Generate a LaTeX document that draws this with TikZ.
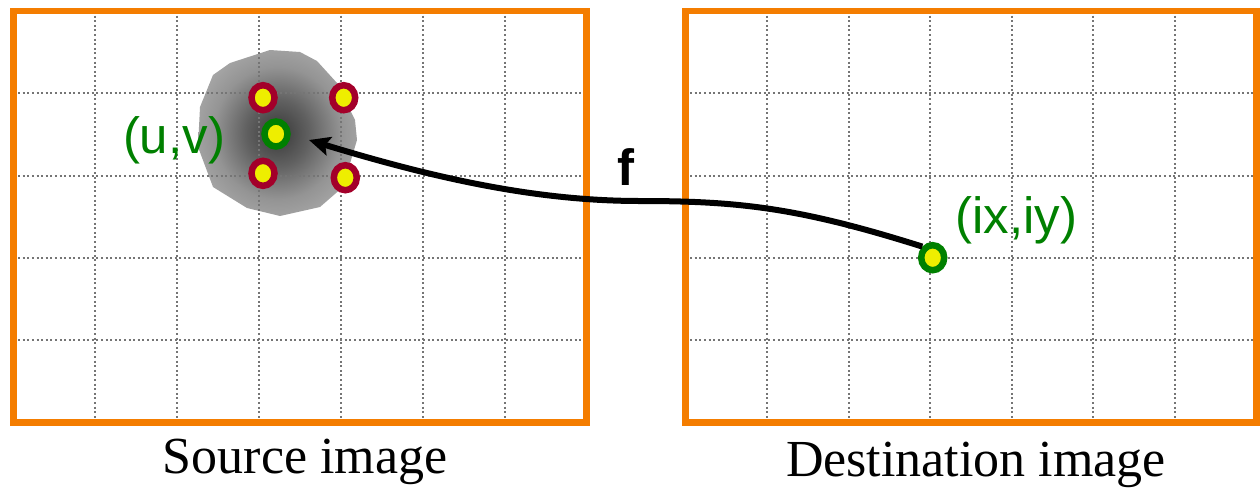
\documentclass[tikz,border=0pt]{standalone}
\usepackage{fontspec}
\setmainfont{Liberation Serif}
\newfontfamily\arialfont{Liberation Sans}
\usetikzlibrary{shapes.geometric,arrows.meta}
\definecolor{boxorange}{HTML}{F47D00}
\definecolor{ringred}{HTML}{A3002A}
\definecolor{dotyellow}{HTML}{EEEE00}
\definecolor{ptgreen}{HTML}{008000}
\definecolor{gridgray}{HTML}{757575}
\pgfdeclareradialshading{blobshade}{\pgfpoint{0bp}{0bp}}{color(0bp)=(black!78); color(10bp)=(black!62); color(20bp)=(black!42); color(32bp)=(black!30); color(50bp)=(black!25); color(70bp)=(black!25)}
\begin{document}
\begin{tikzpicture}[x=1pt,y=-1pt,
 frame/.style={draw=boxorange, line width=6.5pt},
 gridline/.style={draw=gridgray, line width=2pt, dash pattern=on 2pt off 2.6pt},
 sample/.style={ellipse, draw=ringred, fill=dotyellow, line width=6.5pt, minimum width=23pt, minimum height=25pt, inner sep=0pt},
 target/.style={sample, draw=ptgreen},
 flow/.style={line width=6pt, -{Stealth[length=21pt,width=19pt,inset=4pt]}},
 coordlabel/.style={text=ptgreen, font=\arialfont\fontsize{51}{61}\selectfont, anchor=base, inner sep=0pt},
 caption/.style={font=\fontsize{52}{62}\selectfont, anchor=base, inner sep=0pt}]
\useasboundingbox (0,0) rectangle (1260,488);
% gray blob
\shade[shading=blobshade] (230,63) -- (270,50) -- (300,52) -- (317,61) -- (337,83) -- (355,120) -- (357,140) -- (343,187) -- (320,207) -- (280,216) -- (247,208) -- (213,187) -- (198,147) -- (200,107) -- (213,75) -- cycle;
% grids
\foreach \i in {1,...,6} {
  \draw[gridline] ({13.5+\i*81.86},11) -- ({13.5+\i*81.86},422.5);
  \draw[gridline] ({685.5+\i*81.57},11) -- ({685.5+\i*81.57},422.5);
}
\foreach \j in {1,...,4} {
  \draw[gridline] (13.5,{11+\j*82.3}) -- (586.5,{11+\j*82.3});
  \draw[gridline] (685.5,{11+\j*82.3}) -- (1256.5,{11+\j*82.3});
}
% frames
\node[frame, draw, rectangle, inner sep=0pt, minimum width=573pt, minimum height=411.5pt] (src) at (300,216.75) {};
\node[frame, draw, rectangle, inner sep=0pt, minimum width=571pt, minimum height=411.5pt] (dstbox) at (971,216.75) {};
% sample points
\node[sample] (p1) at (263,97.7) {};
\node[sample] (p2) at (343.7,97.7) {};
\node[sample] (p3) at (263,173.3) {};
\node[sample] (p4) at (345.3,177.7) {};
\node[target] (uv) at (276,134) {};
\node[target] (dst) at (932.7,257.7) {};
% mapping arrow
\coordinate (tip) at (309,140);
\coordinate (flat) at (640,201);
\draw[flow] (dst.north west) .. controls (800,208) and (740,201) .. (flat) .. controls (540,201) and (440,180) .. (tip);
% labels
\node[coordlabel] (uvlabel) at (174,153) {(u,v)};
\node[coordlabel] (ixlabel) at (1016.5,233) {(ix,iy)};
\node[font=\arialfont\bfseries\fontsize{51}{61}\selectfont, anchor=base, inner sep=0pt] (flabel) at (626,185) {f};
\node[caption] (srccap) at (305,473) {Source image};
\node[caption] (dstcap) at (976,476.5) {Destination image};
\end{tikzpicture}
\end{document}
